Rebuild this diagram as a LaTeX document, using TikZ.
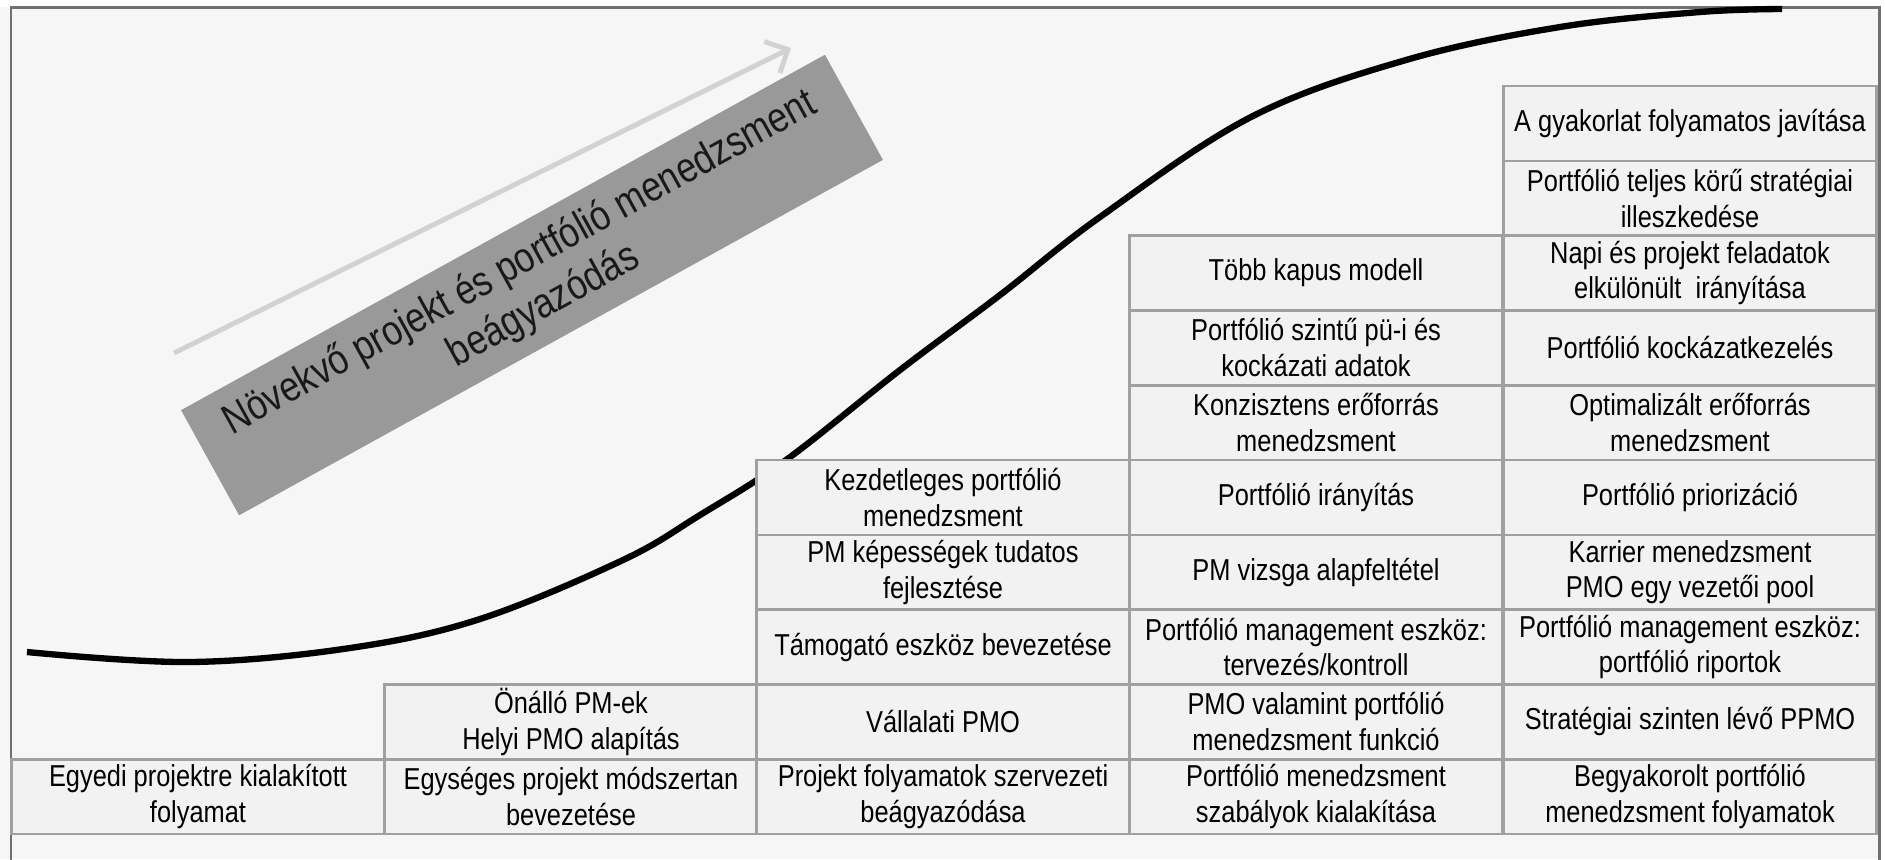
\documentclass[tikz,border=0pt]{standalone}
\usepackage{fontspec}
\setmainfont{Liberation Sans}[FakeStretch=0.84]
\usepackage{tikz}
\usetikzlibrary{arrows.meta}
\definecolor{cellfill}{RGB}{242,242,242}
\definecolor{celledge}{RGB}{160,160,160}
\definecolor{framegray}{RGB}{112,112,112}
\definecolor{bandgray}{RGB}{153,153,153}
\definecolor{arrowgray}{RGB}{210,210,210}
\definecolor{bggray}{RGB}{246,246,246}
\tikzset{
  % 表格单元
  cell/.style={
    draw=celledge,
    fill=cellfill,
    line width=0.75pt,
    minimum width=3.73cm,
    minimum height=0.748cm,
    inner sep=0pt,
    align=center,
    font=\fontsize{8.6}{10.2}\selectfont
  },
  % 斜向灰色条
  band/.style={
    fill=bandgray,
    rotate=28.9,
    minimum width=7.35cm,
    minimum height=1.2cm,
    align=center,
    text=black!90,
    font=\fontsize{12}{14}\selectfont
  },
  % S 曲线
  scurve/.style={line width=1.8pt, black},
}

\begin{document}
\begin{tikzpicture}[
        x=0.01cm, y=-0.01cm,
        arr/.style={-{Straight Barb[length=5pt, width=10pt]}, line width=1.4pt, arrowgray}
    ]
        \useasboundingbox (0,0) rectangle (1885,859);

        % 背景与外框
        \fill[bggray] (0,7) rectangle (1879,859);
        \draw[framegray, line width=0.85pt] (11,880) -- (11,7) -- (1879,7) -- (1879,880);

        % 斜条与箭头
        \node[band] (band) at (532,285) {Növekvő projekt és portfólió menedzsment\\beágyazódás};
        \coordinate (arrS) at (174,353);
        \coordinate (arrE) at (791,48);
        \draw[arr] (arrS) -- (arrE);

        % S 曲线
        \draw[scurve] plot[smooth, tension=0.6] coordinates {
            (27,652) (190,662) (350,648) (480,619) (623,560) (700,515) (786,460)
            (900,370) (1000,295) (1100,217) (1251,117) (1406,60) (1560,27) (1700,12) (1782,9)};

        % 第一列
        \node[cell] (a1) at (198,796.6) {Egyedi projektre kialakított\\folyamat};

        % 第二列
        \node[cell] (b1) at (571,796.6) {Egységes projekt módszertan\\bevezetése};
        \node[cell] (b2) at (571,721.8) {Önálló PM-ek\\Helyi PMO alapítás};

        % 第三列
        \node[cell] (c1) at (943,796.6) {Projekt folyamatok szervezeti\\beágyazódása};
        \node[cell] (c2) at (943,721.8) {Vállalati PMO};
        \node[cell] (c3) at (943,647) {Támogató eszköz bevezetése};
        \node[cell] (c4) at (943,572.2) {PM képességek tudatos\\fejlesztése};
        \node[cell] (c5) at (943,497.4) {Kezdetleges portfólió\\menedzsment};

        % 第四列
        \node[cell] (d1) at (1316,796.6) {Portfólió menedzsment\\szabályok kialakítása};
        \node[cell] (d2) at (1316,721.8) {PMO valamint portfólió\\menedzsment funkció};
        \node[cell] (d3) at (1316,647) {Portfólió management eszköz:\\tervezés/kontroll};
        \node[cell] (d4) at (1316,572.2) {PM vizsga alapfeltétel};
        \node[cell] (d5) at (1316,497.4) {Portfólió irányítás};
        \node[cell] (d6) at (1316,422.6) {Konzisztens erőforrás\\menedzsment};
        \node[cell] (d7) at (1316,347.8) {Portfólió szintű pü-i és\\kockázati adatok};
        \node[cell] (d8) at (1316,273) {Több kapus modell};

        % 第五列
        \node[cell] (e1) at (1690,796.6) {Begyakorolt portfólió\\menedzsment folyamatok};
        \node[cell] (e2) at (1690,721.8) {Stratégiai szinten lévő PPMO};
        \node[cell] (e3) at (1690,647) {Portfólió management eszköz:\\portfólió riportok};
        \node[cell] (e4) at (1690,572.2) {Karrier menedzsment\\PMO egy vezetői pool};
        \node[cell] (e5) at (1690,497.4) {Portfólió priorizáció};
        \node[cell] (e6) at (1690,422.6) {Optimalizált erőforrás\\menedzsment};
        \node[cell] (e7) at (1690,347.8) {Portfólió kockázatkezelés};
        \node[cell] (e8) at (1690,273) {Napi és projekt feladatok\\elkülönült\ \ irányítása};
        \node[cell] (e9) at (1690,198.2) {Portfólió teljes körű stratégiai\\illeszkedése};
        \node[cell] (e10) at (1690,123.4) {A gyakorlat folyamatos javítása};
    \end{tikzpicture}
\end{document}
